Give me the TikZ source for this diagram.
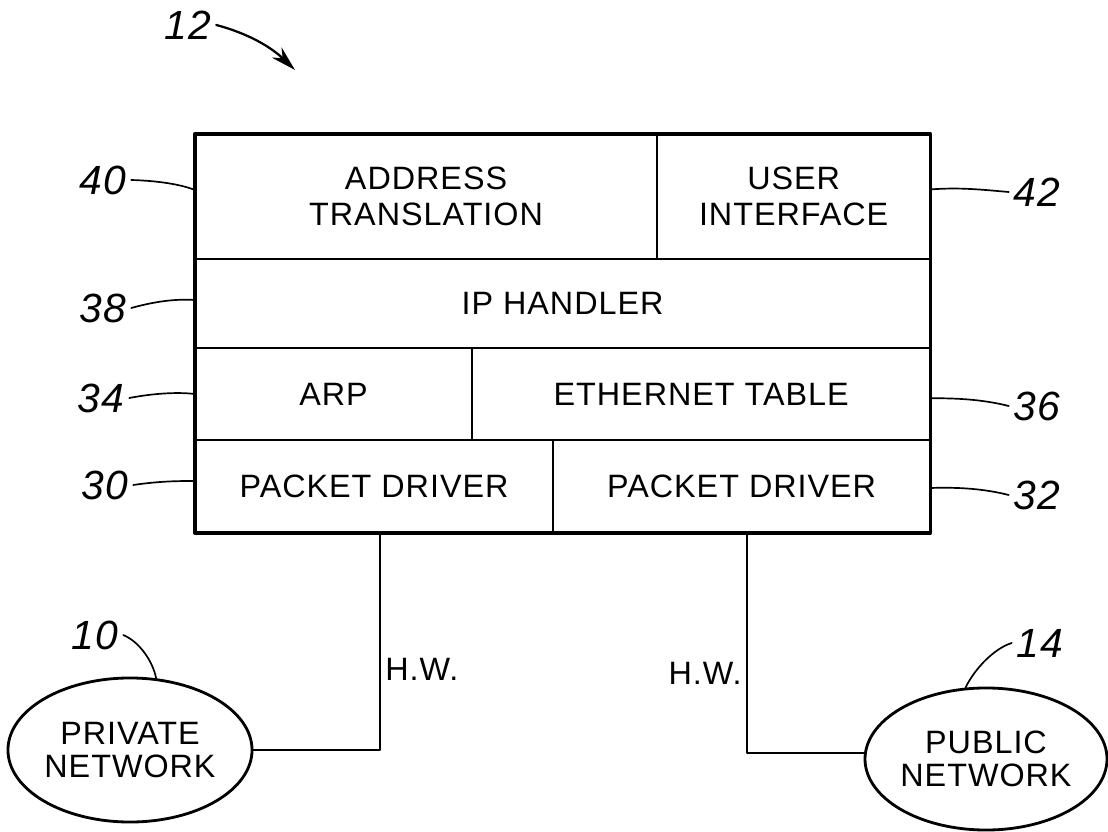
\documentclass[tikz,border=0pt]{standalone}
\usepackage{fontspec}
\setmainfont[LetterSpace=3]{Liberation Sans}
\usetikzlibrary{shapes.geometric,arrows.meta}
\tikzstyle{cell}=[
        draw,
        line width = 1.6pt,
        anchor = north west,
        inner sep = 0pt,
        outer sep = 0pt,
        align = center,
        font = \fontsize{23}{26}\selectfont
    ]
\tikzstyle{net}=[
        draw,
        ellipse,
        line width = 2pt,
        inner sep = 0pt,
        align = center,
        font = \fontsize{23}{23.5}\selectfont
    ]
\tikzstyle{refnum}=[font = \fontsize{29}{29}\selectfont\itshape]
\tikzstyle{leader}=[line width = 1.2pt]
\tikzstyle{hwtext}=[font = \fontsize{23}{26}\selectfont]

\begin{document}
\begin{tikzpicture}[x=0.025cm, y=-0.025cm, line cap=round, line join=round]
        \useasboundingbox (0,0) rectangle (1108,832);

        % the stack of software blocks
        \node[cell, minimum width=11.55cm, minimum height=3.125cm] (addr) at (195,134) {ADDRESS\\TRANSLATION};
        \node[cell, minimum width=6.825cm, minimum height=3.125cm] (user) at (addr.north east) {USER\\INTERFACE};
        \node[cell, minimum width=18.375cm, minimum height=2.225cm] (iph) at (addr.south west) {IP HANDLER};
        \node[cell, minimum width=6.925cm, minimum height=2.3cm] (arp) at (iph.south west) {ARP};
        \node[cell, minimum width=11.45cm, minimum height=2.3cm] (eth) at (arp.north east) {ETHERNET TABLE};
        \node[cell, minimum width=8.95cm, minimum height=2.325cm] (pdl) at (arp.south west) {PACKET DRIVER};
        \node[cell, minimum width=9.425cm, minimum height=2.325cm] (pdr) at (pdl.north east) {PACKET DRIVER};
        \draw[line width=2.4pt] (addr.north west) rectangle (pdr.south east);

        % networks
        \node[net, minimum width=6.1cm, minimum height=3.6cm] (priv) at (130,750) {PRIVATE\\NETWORK};
        \node[net, minimum width=6cm, minimum height=3.55cm] (pub) at (986,759) {PUBLIC\\NETWORK};

        \draw[line width=1.3pt] ([xshift=4pt]pdl.south) |- (priv.east) node [pos=0.315,right,hwtext] (hwl) {H.W.};
        \draw[line width=1.3pt] ([xshift=4pt]pdr.south) |- (pub.177) node [pos=0.32,left,hwtext] (hwr) {H.W.};

        % reference numerals
        \node[refnum] (n12) at (188,25) {12};
        \node[refnum] (n40) at (103,180) {40};
        \node[refnum] (n38) at (103,308) {38};
        \node[refnum] (n34) at (101,398) {34};
        \node[refnum] (n30) at (105,485) {30};
        \node[refnum] (n42) at (1037,192) {42};
        \node[refnum] (n36) at (1037,406) {36};
        \node[refnum] (n32) at (1037,495) {32};
        \node[refnum] (n10) at (95,635) {10};
        \node[refnum] (n14) at (1040,643) {14};
        \coordinate (c12) at (295,70);

        \draw[line width=1.6pt, -{Stealth[length=18pt,width=10pt]}] (n12.east) .. controls (250,34) and (272,48) .. (c12);
        \draw[leader] (n40.east) .. controls (165,181) and (185,186) .. ([yshift=4.6pt]addr.west);
        \draw[leader] (n38.east) .. controls (160,300) and (180,299) .. ([yshift=2.5pt]iph.west);
        \draw[leader] (n34.east) .. controls (155,393) and (180,392) .. (arp.west);
        \draw[leader] (n30.east) .. controls (160,481) and (180,481) .. ([yshift=4pt]pdl.west);
        \draw[leader] (n42.west) .. controls (985,190) and (960,187) .. ([yshift=5pt]user.east);
        \draw[leader] (n36.west) .. controls (985,400) and (960,398) .. ([yshift=-3pt]eth.east);
        \draw[leader] (n32.west) .. controls (985,489) and (960,487) .. ([yshift=-1pt]pdr.east);
        \draw[leader] (n10.east) .. controls (140,642) and (153,662) .. (priv.70);
        \draw[leader] (n14.west) .. controls (995,648) and (975,668) .. (pub.106);
    \end{tikzpicture}
\end{document}
